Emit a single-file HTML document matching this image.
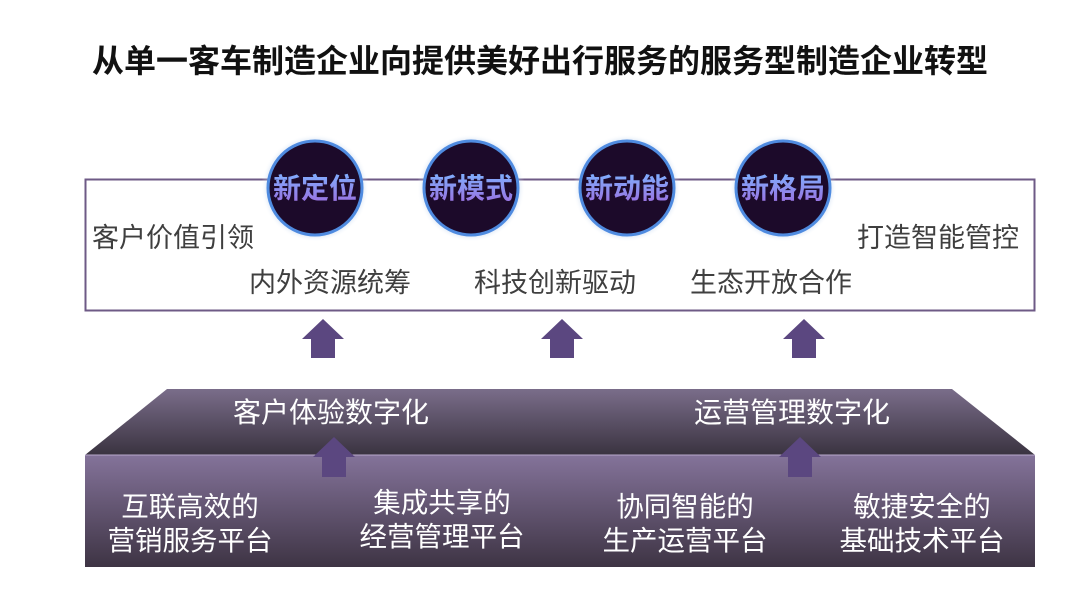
<!DOCTYPE html>
<html><head><meta charset="utf-8"><style>
body{margin:0;width:1080px;height:594px;background:#fff;overflow:hidden;position:relative;font-family:"Liberation Sans","Noto Sans CJK SC",sans-serif}
.t{position:absolute;white-space:nowrap;line-height:1}
.g{color:#3f3f3f;font-size:27px}
.w{color:#fff;font-size:27.5px;text-align:center;line-height:34px}
</style></head><body>
<svg width="1080" height="594" style="position:absolute;left:0;top:0">
<defs>
<linearGradient id="top" x1="0" y1="0" x2="0" y2="1"><stop offset="0" stop-color="#7a6d8a"/><stop offset="1" stop-color="#3a3340"/></linearGradient>
<linearGradient id="front" x1="0" y1="0" x2="0" y2="1"><stop offset="0" stop-color="#84739a"/><stop offset="1" stop-color="#3e3444"/></linearGradient>
<linearGradient id="txt" x1="0" y1="0" x2="0" y2="1"><stop offset="0" stop-color="#7fb0ff"/><stop offset="1" stop-color="#9a6fe0"/></linearGradient>
<radialGradient id="glow"><stop offset="0.8" stop-color="#6a9ad8" stop-opacity="0.6"/><stop offset="1" stop-color="#fff" stop-opacity="0"/></radialGradient>
</defs>
<rect x="85.5" y="179.5" width="949" height="131" fill="none" stroke="#6e5a86" stroke-width="2"/>
<polygon points="167,389 952,389 1035,455 85,455" fill="url(#top)"/>
<rect x="85" y="455" width="950" height="112" fill="url(#front)"/>
<line x1="85" y1="455" x2="1035" y2="455" stroke="#b8a8cc" stroke-width="1"/>
<g fill="#5b4780">
<polygon points="323,319 344,339 335,339 335,358 311,358 311,339 302,339"/>
<polygon points="562,319 583,339 574,339 574,358 550,358 550,339 541,339"/>
<polygon points="804,319 825,339 816,339 816,358 792,358 792,339 783,339"/>
<polygon points="334,437 355,457 346,457 346,477 322,477 322,457 313,457"/>
<polygon points="800,437 821,457 812,457 812,477 788,477 788,457 779,457"/>
</g>
<g>
<circle cx="315" cy="188" r="54" fill="url(#glow)"/><circle cx="315" cy="188" r="47" fill="#1c0a2a" stroke="#4f8be0" stroke-width="3"/>
<circle cx="471" cy="188" r="54" fill="url(#glow)"/><circle cx="471" cy="188" r="47" fill="#1c0a2a" stroke="#4f8be0" stroke-width="3"/>
<circle cx="627" cy="188" r="54" fill="url(#glow)"/><circle cx="627" cy="188" r="47" fill="#1c0a2a" stroke="#4f8be0" stroke-width="3"/>
<circle cx="783" cy="188" r="54" fill="url(#glow)"/><circle cx="783" cy="188" r="47" fill="#1c0a2a" stroke="#4f8be0" stroke-width="3"/>
</g>
<g font-family="Liberation Sans, Noto Sans CJK SC, sans-serif" font-weight="bold" font-size="28" fill="url(#txt)" text-anchor="middle">
<text x="315" y="198">新定位</text><text x="471" y="198">新模式</text><text x="627" y="198">新动能</text><text x="783" y="198">新格局</text>
</g>
</svg>
<div class="t" style="left:0;width:1080px;text-align:center;top:45px;font-size:32px;font-weight:bold;color:#111">从单一客车制造企业向提供美好出行服务的服务型制造企业转型</div>
<div class="t g" style="left:92px;top:225px">客户价值引领</div>
<div class="t g" style="left:857px;top:225px">打造智能管控</div>
<div class="t g" style="left:249px;top:270px">内外资源统筹</div>
<div class="t g" style="left:474px;top:270px">科技创新驱动</div>
<div class="t g" style="left:690px;top:270px">生态开放合作</div>
<div class="t" style="left:233px;top:399px;font-size:28px;color:#fff">客户体验数字化</div>
<div class="t" style="left:694px;top:399px;font-size:28px;color:#fff">运营管理数字化</div>
<div class="t w" style="left:90px;width:200px;top:490px">互联高效的<br>营销服务平台</div>
<div class="t w" style="left:342px;width:200px;top:486px">集成共享的<br>经营管理平台</div>
<div class="t w" style="left:585px;width:200px;top:490px">协同智能的<br>生产运营平台</div>
<div class="t w" style="left:822px;width:200px;top:490px">敏捷安全的<br>基础技术平台</div>
</body></html>
